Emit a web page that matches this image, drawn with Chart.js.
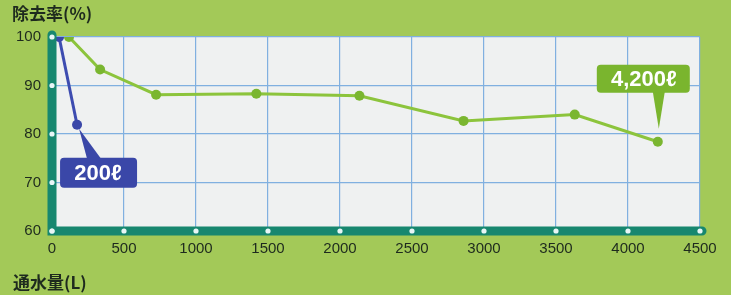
<!DOCTYPE html>
<html>
<head>
<meta charset="utf-8">
<script src="https://cdn.jsdelivr.net/npm/chart.js@4/dist/chart.umd.min.js"></script>
<style>
  html, body { margin: 0; padding: 0; background: #a3c958; }
  #wrap { width: 731px; height: 295px; }
</style>
</head>
<body>
<div id="wrap"><canvas id="chart" width="731" height="295"></canvas></div>
<script>
// 通水量(L) / 除去率(%)
var greenX = [118, 334, 723, 1419, 2135, 2858, 3630, 4207];
var greenY = [100, 93.3, 88.1, 88.3, 87.9, 82.7, 84.0, 78.4];
var blueX = [49, 174];
var blueY = [100, 81.9];
var xTicks = [0, 500, 1000, 1500, 2000, 2500, 3000, 3500, 4000, 4500];
var yTicks = [60, 70, 80, 90, 100];
var labels = { blue: '200ℓ', green: '4,200ℓ' };

function pts(xs, ys) {
    return xs.map(function (x, i) { return { x: x, y: ys[i] }; });
}

var TEAL = '#17876f';
var FONT = '"Liberation Sans", Arial, sans-serif';

var bgPlugin = {
    id: 'bg',
    beforeDraw: function (chart) {
        var ctx = chart.ctx, a = chart.chartArea;
        ctx.save();
        ctx.fillStyle = '#a3c958';
        ctx.fillRect(0, 0, chart.width, chart.height);
        ctx.fillStyle = '#eff1f1';
        ctx.fillRect(a.left, a.top, a.right - a.left, a.bottom - a.top);
        ctx.restore();
    }
};

function roundRect(ctx, x, y, w, h, r) {
    ctx.beginPath();
    ctx.moveTo(x + r, y);
    ctx.lineTo(x + w - r, y);
    ctx.quadraticCurveTo(x + w, y, x + w, y + r);
    ctx.lineTo(x + w, y + h - r);
    ctx.quadraticCurveTo(x + w, y + h, x + w - r, y + h);
    ctx.lineTo(x + r, y + h);
    ctx.quadraticCurveTo(x, y + h, x, y + h - r);
    ctx.lineTo(x, y + r);
    ctx.quadraticCurveTo(x, y, x + r, y);
    ctx.closePath();
}

var decoPlugin = {
    id: 'deco',
    afterDraw: function (chart) {
        var ctx = chart.ctx, a = chart.chartArea;
        var xs = chart.scales.x, ys = chart.scales.y;
        ctx.save();
        // teal axes
        ctx.strokeStyle = TEAL;
        ctx.lineWidth = 9;
        ctx.lineCap = 'round';
        ctx.beginPath();
        ctx.moveTo(a.left, a.top - 2);
        ctx.lineTo(a.left, a.bottom);
        ctx.lineTo(a.right + 2, a.bottom);
        ctx.stroke();
        // white tick dots
        ctx.fillStyle = '#e8f6f6';
        xTicks.forEach(function (v) {
            ctx.beginPath();
            ctx.arc(xs.getPixelForValue(v), a.bottom, 2.6, 0, Math.PI * 2);
            ctx.fill();
        });
        yTicks.forEach(function (v) {
            ctx.beginPath();
            ctx.arc(a.left, ys.getPixelForValue(v), 2.6, 0, Math.PI * 2);
            ctx.fill();
        });

        // axis titles
        ctx.fillStyle = '#1e2a1e';
        ctx.font = 'bold 17px "Noto Sans CJK JP", sans-serif';
        ctx.textBaseline = 'middle';
        ctx.textAlign = 'left';
        ctx.fillText('除去率(%)', 12, 14);
        ctx.fillText('通水量(L)', 13, 283);

        // callouts
        var bm = chart.getDatasetMeta(1).data;
        var bp = bm[bm.length - 1];
        ctx.fillStyle = '#3a47a8';
        ctx.beginPath();
        ctx.moveTo(bp.x + 2, bp.y + 4);
        ctx.lineTo(bp.x + 24, bp.y + 34);
        ctx.lineTo(bp.x + 10, bp.y + 34);
        ctx.closePath();
        ctx.fill();
        roundRect(ctx, bp.x - 17, bp.y + 33, 77, 30, 4);
        ctx.fill();
        ctx.fillStyle = '#ffffff';
        ctx.font = 'bold 22px ' + FONT;
        ctx.textAlign = 'center';
        ctx.fillText(labels.blue, bp.x + 21, bp.y + 49);

        var gm = chart.getDatasetMeta(0).data;
        var gp = gm[gm.length - 1];
        ctx.fillStyle = '#7ab52e';
        ctx.beginPath();
        ctx.moveTo(gp.x - 5, gp.y - 50);
        ctx.lineTo(gp.x + 7, gp.y - 50);
        ctx.lineTo(gp.x + 1, gp.y - 13);
        ctx.closePath();
        ctx.fill();
        roundRect(ctx, gp.x - 61, gp.y - 77, 93, 28, 4);
        ctx.fill();
        ctx.fillStyle = '#ffffff';
        ctx.fillText(labels.green, gp.x - 14, gp.y - 62);
        ctx.restore();
    }
};

new Chart('chart', {
    type: 'scatter',
    data: {
        datasets: [{
            data: pts(greenX, greenY),
            showLine: true,
            borderColor: '#8cc43c',
            backgroundColor: '#7ab630',
            pointBorderWidth: 0,
            borderWidth: 3,
            pointRadius: 5,
            pointHoverRadius: 5
        }, {
            data: pts(blueX, blueY),
            showLine: true,
            borderColor: '#3d4cb0',
            backgroundColor: '#3a47a8',
            pointBorderWidth: 0,
            borderWidth: 3,
            pointRadius: 5,
            pointHoverRadius: 5
        }]
    },
    options: {
        responsive: false,
        animation: false,
        events: [],
        layout: { padding: { top: 37, right: 31, bottom: 0, left: 0 } },
        plugins: {
            legend: { display: false },
            tooltip: { enabled: false }
        },
        scales: {
            x: {
                type: 'linear',
                min: 0,
                max: 4500,
                afterFit: function (s) { s.height = 64; },
                afterBuildTicks: function (s) {
                    s.ticks = xTicks.map(function (v) { return { value: v }; });
                },
                grid: { color: '#80b0e0', lineWidth: 1.2, drawTicks: false },
                border: { display: false },
                ticks: {
                    padding: 9,
                    color: '#1e2a1e',
                    font: { family: FONT, size: 15 },
                    callback: function (v) { return String(v); }
                }
            },
            y: {
                min: 60,
                max: 100,
                afterFit: function (s) { s.width = 52; },
                afterBuildTicks: function (s) {
                    s.ticks = yTicks.map(function (v) { return { value: v }; });
                },
                grid: { color: '#80b0e0', lineWidth: 1.2, drawTicks: false },
                border: { display: false },
                ticks: {
                    padding: 11,
                    color: '#1e2a1e',
                    font: { family: FONT, size: 15 },
                    callback: function (v) { return String(v); }
                }
            }
        }
    },
    plugins: [bgPlugin, decoPlugin]
});
</script>
</body>
</html>
